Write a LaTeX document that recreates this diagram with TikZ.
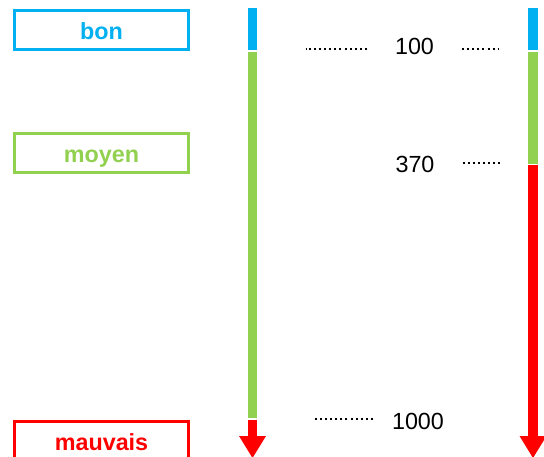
\documentclass[tikz,border=0pt]{standalone}
\usepackage{fontspec}
\setmainfont{Liberation Sans}
\usetikzlibrary{arrows.meta}

\definecolor{bonblue}{HTML}{00B0F0}
\definecolor{moyengreen}{HTML}{92D050}
\definecolor{mauvaisred}{HTML}{FF0000}

\begin{document}
\begin{tikzpicture}[
      x = 0.75pt, y = -0.75pt,
      font = \fontsize{17.5}{21}\selectfont,
      level/.style = {
        rectangle,
        draw = #1, line width = 2.25pt,
        text = #1,
        font = \fontsize{17.5}{21}\selectfont\bfseries,
        minimum width = 130.9pt,
        minimum height = 29.6pt,
        text height = 13.5pt,
        text depth = 0pt,
        inner sep = 0,
      },
      bar/.style = {
        draw = #1, line width = 7.1pt,
      },
      tick/.style = {
        line width = 1.5pt,
        dash pattern = on 1.5pt off 2.3pt,
      },
      value/.style = {
        inner sep = 0,
      },
    ]
    \clip (0,0) rectangle (544,457);

    \node[level = bonblue]     (bon)     at (101.5,  30.2) {bon};
    \node[level = moyengreen]  (moyen)   at (101.5, 153)   {moyen};
    \node[level = mauvaisred]  (mauvais) at (101.5, 441.5) {mauvais};

    \node[value] (v100)  at (414.5,  46)   {100};
    \node[value] (v370)  at (415,   164)   {370};
    \node[value] (v1000) at (418,   421.6) {1000};

    % scale bars
    \coordinate (L0) at (252.5,   8);
    \coordinate (L1) at (252.5,  49.5);
    \coordinate (L2) at (252.5,  51.5);
    \coordinate (L3) at (252.5, 418);
    \coordinate (L4) at (252.5, 419.5);
    \coordinate (L5) at (252.5, 458);

    \coordinate (R0) at (533,   8);
    \coordinate (R1) at (533,  49.5);
    \coordinate (R2) at (533,  51.5);
    \coordinate (R3) at (533, 163.5);
    \coordinate (R4) at (533, 165);
    \coordinate (R5) at (533, 458);

    \draw[bar = bonblue]    (L0) -- (L1);
    \draw[bar = moyengreen] (L2) -- (L3);
    \draw[bar = mauvaisred, -{Triangle[width = 20.25pt, length = 16.5pt, line width = 0pt]}] (L4) -- (L5);

    \draw[bar = bonblue]    (R0) -- (R1);
    \draw[bar = moyengreen] (R2) -- (R3);
    \draw[bar = mauvaisred, -{Triangle[width = 20.25pt, length = 16.5pt, line width = 0pt]}] (R4) -- (R5);

    % dotted ticks
    \draw[tick] ([xshift = -21pt, yshift = -2.2pt]v100.west) -- ++(-61,0);
    \draw[tick] ([xshift =  21pt, yshift = -2.2pt]v100.east) -- ++(36,0);
    \draw[tick] ([xshift =  21pt, yshift =  0.5pt]v370.east) -- ++(37,0);
    \draw[tick] ([xshift = -14.25pt, yshift = 1.8pt]v1000.west) -- ++(-60,0);

  \end{tikzpicture}
\end{document}
